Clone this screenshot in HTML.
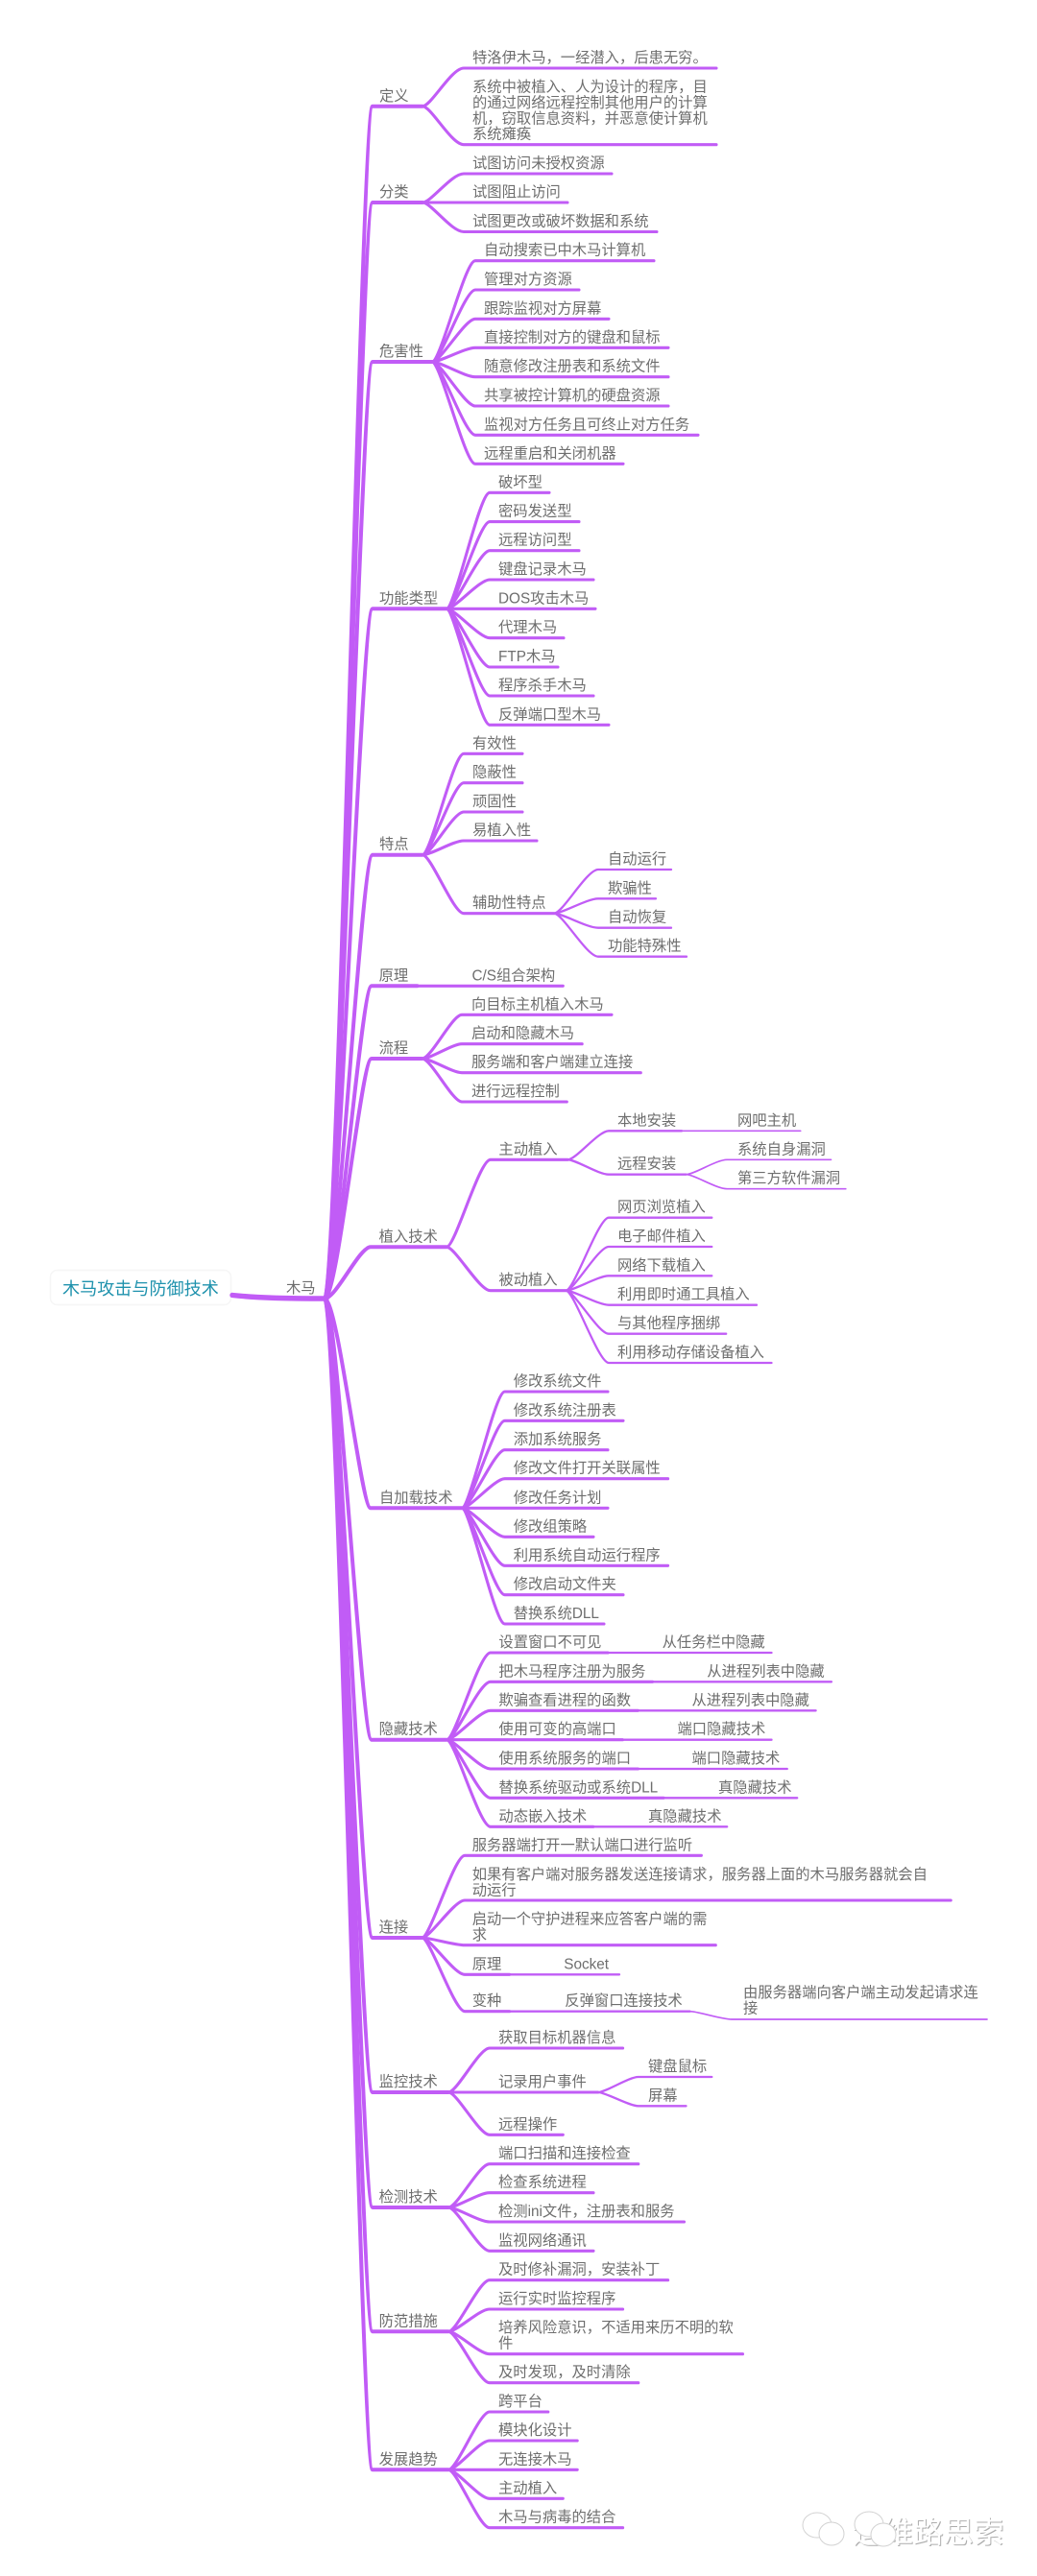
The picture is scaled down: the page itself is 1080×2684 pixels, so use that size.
<!DOCTYPE html>
<html lang="zh"><head><meta charset="utf-8"><title>木马攻击与防御技术</title>
<style>
html,body{margin:0;padding:0;background:#fff}
svg{display:block;filter:blur(.35px)}
text{font-family:"Liberation Sans","Noto Sans CJK SC",sans-serif;font-size:15.3px;fill:#6e6e6e}
.l{fill:none;stroke:#c15cf6;stroke-linecap:round;stroke-linejoin:round}
</style></head><body>
<svg width="1080" height="2684" viewBox="0 0 1080 2684" xmlns="http://www.w3.org/2000/svg">
<rect x="52.5" y="1323.5" width="188" height="36" rx="7" fill="#fff" stroke="#f6f6f6" stroke-width="1.5"/>
<g class="l">
<path stroke-width="5.4" d="M242 1349.5C270 1352.5 300 1353 340 1353"/>
<g stroke-width="4">
<path d="M338 1353C352 1353 376 110.7 388 110.7H440"/>
<path d="M338 1353C352 1353 376 211 388 211H440"/>
<path d="M338 1353C352 1353 376 377 388 377H450"/>
<path d="M338 1353C352 1353 376 634.3 388 634.3H465"/>
<path d="M338 1353C352 1353 376 890.7 388 890.7H440"/>
<path d="M338 1353C352 1353 376 1027.3 387 1027.3H434.5"/>
<path d="M338 1353C352 1353 376 1103 387 1103H439.5"/>
<path d="M338 1353C350 1353 374 1299.3 386 1299.3H465.2"/>
<path d="M338 1353C352 1353 376 1571.3 386 1571.3H481"/>
<path d="M338 1353C352 1353 376 1812.7 387 1812.7H465.2"/>
<path d="M338 1353C352 1353 376 2019 388 2019H439.5"/>
<path d="M338 1353C352 1353 376 2180 388 2180H467"/>
<path d="M338 1353C352 1353 376 2300 388 2300H467"/>
<path d="M338 1353C352 1353 376 2429.3 388 2429.3H467"/>
<path d="M338 1353C352 1353 376 2573.3 388 2573.3H467"/>
</g>
<g stroke-width="3.1">
<path d="M440 110.7C449 110.7 470 71 483 71H746"/>
<path d="M440 110.7C449 110.7 470 150.7 483 150.7H746"/>
<path d="M440 211C449 211 470 181 483 181H637"/>
<path d="M440 211H591"/>
<path d="M440 211C449 211 470 241.5 483 241.5H684"/>
<path d="M450 377C459 377 484 271.7 495 271.7H681"/>
<path d="M450 377C459 377 484 302 495 302H603"/>
<path d="M450 377C459 377 484 332.3 495 332.3H634"/>
<path d="M450 377C459 377 484 362.3 495 362.3H696"/>
<path d="M450 377C459 377 484 392.7 495 392.7H696"/>
<path d="M450 377C459 377 484 423 495 423H696"/>
<path d="M450 377C459 377 484 453.3 495 453.3H727"/>
<path d="M450 377C459 377 484 483.3 495 483.3H649"/>
<path d="M465 634.3C474 634.3 499 513.3 510 513.3H572"/>
<path d="M465 634.3C474 634.3 499 543.6 510 543.6H603"/>
<path d="M465 634.3C474 634.3 499 573.7 510 573.7H603"/>
<path d="M465 634.3C474 634.3 499 604 510 604H618"/>
<path d="M465 634.3H620"/>
<path d="M465 634.3C474 634.3 499 664.7 510 664.7H587"/>
<path d="M465 634.3C474 634.3 499 695 510 695H581"/>
<path d="M465 634.3C474 634.3 499 725 510 725H618"/>
<path d="M465 634.3C474 634.3 499 755.3 510 755.3H634"/>
<path d="M440 890.7C449 890.7 472 785.3 483 785.3H544"/>
<path d="M440 890.7C449 890.7 472 815.7 483 815.7H544"/>
<path d="M440 890.7C449 890.7 472 846 483 846H544"/>
<path d="M440 890.7C449 890.7 472 876 483 876H559"/>
<path d="M440 890.7C449 890.7 472 951.7 483 951.7H577"/>
<path d="M434.5 1027.3H586.3"/>
<path d="M439.5 1103C449 1103 471 1057.3 481 1057.3H637"/>
<path d="M439.5 1103C449 1103 471 1087.7 481 1087.7H606.2"/>
<path d="M439.5 1103C449 1103 471 1117.7 481 1117.7H667.3"/>
<path d="M439.5 1103C449 1103 471 1148 481 1148H590.3"/>
<path d="M465.2 1299.3C474 1299.3 499 1208.3 510.8 1208.3H591.3"/>
<path d="M465.2 1299.3C474 1299.3 499 1344.7 510.8 1344.7H589.3"/>
<path d="M481 1571.3C490 1571.3 515 1450 525.7 1450H633"/>
<path d="M481 1571.3C490 1571.3 515 1480.3 525.7 1480.3H649"/>
<path d="M481 1571.3C490 1571.3 515 1510.7 525.7 1510.7H633"/>
<path d="M481 1571.3C490 1571.3 515 1540.7 525.7 1540.7H695.6"/>
<path d="M481 1571.3H633"/>
<path d="M481 1571.3C490 1571.3 515 1601.3 525.7 1601.3H618"/>
<path d="M481 1571.3C490 1571.3 515 1631.3 525.7 1631.3H695.6"/>
<path d="M481 1571.3C490 1571.3 515 1661.7 525.7 1661.7H649"/>
<path d="M481 1571.3C490 1571.3 515 1692 525.7 1692H629"/>
<path d="M465.2 1812.7C474 1812.7 499 1722 510.8 1722H633"/>
<path d="M465.2 1812.7C474 1812.7 499 1752.3 510.8 1752.3H679.7"/>
<path d="M465.2 1812.7C474 1812.7 499 1782.3 510.8 1782.3H664.4"/>
<path d="M465.2 1812.7H648.4"/>
<path d="M465.2 1812.7C474 1812.7 499 1843 510.8 1843H664.4"/>
<path d="M465.2 1812.7C474 1812.7 499 1873.3 510.8 1873.3H691.2"/>
<path d="M465.2 1812.7C474 1812.7 499 1903.3 510.8 1903.3H618"/>
<path d="M439.5 2019C448 2019 473 1933.3 484 1933.3H730.4"/>
<path d="M439.5 2019C448 2019 473 1980 484 1980H990.2"/>
<path d="M439.5 2019C448 2019 473 2026.7 484 2026.7H745.3"/>
<path d="M439.5 2019C448 2019 473 2057.3 484 2057.3H530.7"/>
<path d="M439.5 2019C448 2019 473 2095.7 484 2095.7H530.7"/>
<path d="M467 2180C476 2180 499 2134 509.8 2134H648.6"/>
<path d="M467 2180H622.7"/>
<path d="M467 2180C476 2180 499 2224.3 509.8 2224.3H586.3"/>
<path d="M467 2300C476 2300 499 2254.7 509.8 2254.7H664.8"/>
<path d="M467 2300C476 2300 499 2284.7 509.8 2284.7H618"/>
<path d="M467 2300C476 2300 499 2315 509.8 2315H712.5"/>
<path d="M467 2300C476 2300 499 2345.3 509.8 2345.3H618"/>
<path d="M467 2429.3C476 2429.3 499 2375.7 509.8 2375.7H695.6"/>
<path d="M467 2429.3C476 2429.3 499 2406 509.8 2406H648.6"/>
<path d="M467 2429.3C476 2429.3 499 2452.7 509.8 2452.7H773.5"/>
<path d="M467 2429.3C476 2429.3 499 2482.7 509.8 2482.7H664.8"/>
<path d="M467 2573.3C476 2573.3 499 2513 509.8 2513H570.8"/>
<path d="M467 2573.3C476 2573.3 499 2543 509.8 2543H601.2"/>
<path d="M467 2573.3H601.2"/>
<path d="M467 2573.3C476 2573.3 499 2603.3 509.8 2603.3H586.3"/>
<path d="M467 2573.3C476 2573.3 499 2633.7 509.8 2633.7H648.6"/>
</g>
<g stroke-width="2.3">
<path d="M577 951.7C586 951.7 611 906 623 906H699"/>
<path d="M577 951.7C586 951.7 611 936.3 623 936.3H683"/>
<path d="M577 951.7C586 951.7 611 966.7 623 966.7H699"/>
<path d="M577 951.7C586 951.7 611 996.7 623 996.7H715"/>
<path d="M591.3 1208.3C600 1208.3 623 1178.3 634 1178.3H710"/>
<path d="M591.3 1208.3C600 1208.3 623 1223.7 634 1223.7H714.5"/>
<path d="M589.3 1344.7C598 1344.7 623 1268.7 634 1268.7H741.3"/>
<path d="M589.3 1344.7C598 1344.7 623 1299 634 1299H741.3"/>
<path d="M589.3 1344.7C598 1344.7 623 1329.3 634 1329.3H741.3"/>
<path d="M589.3 1344.7C598 1344.7 623 1359.7 634 1359.7H788"/>
<path d="M589.3 1344.7C598 1344.7 623 1389.7 634 1389.7H756.2"/>
<path d="M589.3 1344.7C598 1344.7 623 1420 634 1420H803.5"/>
<path d="M633 1722H803.5"/>
<path d="M679.7 1752.3H865.9"/>
<path d="M664.4 1782.3H849.6"/>
<path d="M648.4 1812.7H803.5"/>
<path d="M664.4 1843H819.8"/>
<path d="M691.2 1873.3H830.2"/>
<path d="M618 1903.3H757.2"/>
<path d="M530.7 2057.3H645"/>
<path d="M530.7 2095.7H718.5"/>
<path d="M622.7 2180C631 2180 655 2164 664.8 2164H741.3"/>
<path d="M622.7 2180C631 2180 655 2194.3 664.8 2194.3H714.5"/>
</g>
<g stroke-width="1.7">
<path d="M710 1178.3H833.7"/>
<path d="M714.5 1223.7C723 1223.7 746 1208.3 757.2 1208.3H865.5"/>
<path d="M714.5 1223.7C723 1223.7 746 1238.7 757.2 1238.7H880.8"/>
<path d="M718.5 2095.7C727 2095.7 751 2104 762 2104H1028"/>
</g>
</g>

<text x="65" y="1349" style="font-size:18.1px;fill:#1f92ad">木马攻击与防御技术</text>
<text x="298" y="1347">木马</text>

<text x="395" y="105">定义</text>
<text x="492" y="65">特洛伊木马，一经潜入，后患无穷。</text>
<text x="492" y="95.5">系统中被植入、人为设计的程序，目</text>
<text x="492" y="111.8">的通过网络远程控制其他用户的计算</text>
<text x="492" y="128.3">机，窃取信息资料，并恶意使计算机</text>
<text x="492" y="144.5">系统瘫痪</text>

<text x="395" y="205">分类</text>
<text x="492" y="175">试图访问未授权资源</text>
<text x="492" y="205">试图阻止访问</text>
<text x="492" y="235.5">试图更改或破坏数据和系统</text>

<text x="395" y="371">危害性</text>
<text x="504" y="265.7">自动搜索已中木马计算机</text>
<text x="504" y="296">管理对方资源</text>
<text x="504" y="326.3">跟踪监视对方屏幕</text>
<text x="504" y="356.3">直接控制对方的键盘和鼠标</text>
<text x="504" y="386.7">随意修改注册表和系统文件</text>
<text x="504" y="417">共享被控计算机的硬盘资源</text>
<text x="504" y="447.3">监视对方任务且可终止对方任务</text>
<text x="504" y="477.3">远程重启和关闭机器</text>

<text x="395" y="628.3">功能类型</text>
<text x="519" y="507.3">破坏型</text>
<text x="519" y="537.6">密码发送型</text>
<text x="519" y="567.7">远程访问型</text>
<text x="519" y="598">键盘记录木马</text>
<text x="519" y="628.3">DOS攻击木马</text>
<text x="519" y="658.7">代理木马</text>
<text x="519" y="689">FTP木马</text>
<text x="519" y="719">程序杀手木马</text>
<text x="519" y="749.3">反弹端口型木马</text>

<text x="395" y="884.7">特点</text>
<text x="492" y="779.3">有效性</text>
<text x="492" y="809.7">隐蔽性</text>
<text x="492" y="840">顽固性</text>
<text x="492" y="870">易植入性</text>
<text x="492" y="945.7">辅助性特点</text>
<text x="633" y="900">自动运行</text>
<text x="633" y="930.3">欺骗性</text>
<text x="633" y="960.7">自动恢复</text>
<text x="633" y="990.7">功能特殊性</text>

<text x="394.6" y="1021.3">原理</text>
<text x="491.5" y="1021.3">C/S组合架构</text>

<text x="394.6" y="1097">流程</text>
<text x="491" y="1051.3">向目标主机植入木马</text>
<text x="491" y="1081.7">启动和隐藏木马</text>
<text x="491" y="1111.7">服务端和客户端建立连接</text>
<text x="491" y="1142">进行远程控制</text>

<text x="394.6" y="1293.3">植入技术</text>
<text x="519.4" y="1202.3">主动植入</text>
<text x="643" y="1172.3">本地安装</text>
<text x="768" y="1172.3">网吧主机</text>
<text x="643" y="1217.7">远程安装</text>
<text x="768" y="1202.3">系统自身漏洞</text>
<text x="768" y="1232.7">第三方软件漏洞</text>
<text x="519.4" y="1338.7">被动植入</text>
<text x="643" y="1262.7">网页浏览植入</text>
<text x="643" y="1293">电子邮件植入</text>
<text x="643" y="1323.3">网络下载植入</text>
<text x="643" y="1353.7">利用即时通工具植入</text>
<text x="643" y="1383.7">与其他程序捆绑</text>
<text x="643" y="1414">利用移动存储设备植入</text>

<text x="395" y="1565.3">自加载技术</text>
<text x="534.7" y="1444">修改系统文件</text>
<text x="534.7" y="1474.3">修改系统注册表</text>
<text x="534.7" y="1504.7">添加系统服务</text>
<text x="534.7" y="1534.7">修改文件打开关联属性</text>
<text x="534.7" y="1565.3">修改任务计划</text>
<text x="534.7" y="1595.3">修改组策略</text>
<text x="534.7" y="1625.3">利用系统自动运行程序</text>
<text x="534.7" y="1655.7">修改启动文件夹</text>
<text x="534.7" y="1686">替换系统DLL</text>

<text x="394.6" y="1806.7">隐藏技术</text>
<text x="519.4" y="1716">设置窗口不可见</text>
<text x="689.6" y="1716">从任务栏中隐藏</text>
<text x="519.4" y="1746.3">把木马程序注册为服务</text>
<text x="736.3" y="1746.3">从进程列表中隐藏</text>
<text x="519.4" y="1776.3">欺骗查看进程的函数</text>
<text x="720.5" y="1776.3">从进程列表中隐藏</text>
<text x="519.4" y="1806.7">使用可变的高端口</text>
<text x="705.5" y="1806.7">端口隐藏技术</text>
<text x="519.4" y="1837">使用系统服务的端口</text>
<text x="720.5" y="1837">端口隐藏技术</text>
<text x="519.4" y="1867.3">替换系统驱动或系统DLL</text>
<text x="748" y="1867.3">真隐藏技术</text>
<text x="519.4" y="1897.3">动态嵌入技术</text>
<text x="675" y="1897.3">真隐藏技术</text>

<text x="394.6" y="2013">连接</text>
<text x="491.7" y="1927.3">服务器端打开一默认端口进行监听</text>
<text x="491.7" y="1957.8">如果有客户端对服务器发送连接请求，服务器上面的木马服务器就会自</text>
<text x="491.7" y="1974.5">动运行</text>
<text x="491.7" y="2004.5">启动一个守护进程来应答客户端的需</text>
<text x="491.7" y="2021">求</text>
<text x="491.7" y="2051.3">原理</text>
<text x="587.3" y="2051.3">Socket</text>
<text x="491.7" y="2089.7">变种</text>
<text x="588.3" y="2089.7">反弹窗口连接技术</text>
<text x="774" y="2081">由服务器端向客户端主动发起请求连</text>
<text x="774" y="2097.7">接</text>

<text x="394.6" y="2174">监控技术</text>
<text x="519" y="2128">获取目标机器信息</text>
<text x="519" y="2174">记录用户事件</text>
<text x="675" y="2158">键盘鼠标</text>
<text x="675" y="2188.3">屏幕</text>
<text x="519" y="2218.3">远程操作</text>

<text x="394.6" y="2294">检测技术</text>
<text x="519" y="2248.7">端口扫描和连接检查</text>
<text x="519" y="2278.7">检查系统进程</text>
<text x="519" y="2309">检测ini文件，注册表和服务</text>
<text x="519" y="2339.3">监视网络通讯</text>

<text x="394.6" y="2423.3">防范措施</text>
<text x="519" y="2369.7">及时修补漏洞，安装补丁</text>
<text x="519" y="2400">运行实时监控程序</text>
<text x="519" y="2429.8">培养风险意识，不适用来历不明的软</text>
<text x="519" y="2446.5">件</text>
<text x="519" y="2476.7">及时发现，及时清除</text>

<text x="394.6" y="2567.3">发展趋势</text>
<text x="519" y="2507">跨平台</text>
<text x="519" y="2537">模块化设计</text>
<text x="519" y="2567.3">无连接木马</text>
<text x="519" y="2597.3">主动植入</text>
<text x="519" y="2627.7">木马与病毒的结合</text>

<g fill="#fff" stroke="#d2d2d2" stroke-width="1">
<ellipse cx="851" cy="2631" rx="15" ry="13"/>
<ellipse cx="866" cy="2640" rx="13" ry="12"/>
</g>
<text x="889" y="2650" style="font-size:31.5px;fill:#adadad">运维路思索</text>
<text x="888" y="2649" style="font-size:31.5px;fill:#fff">运维路思索</text>
<g fill="#fff" stroke="#d2d2d2" stroke-width="1">
<ellipse cx="905" cy="2630" rx="15" ry="13"/>
<ellipse cx="920" cy="2641" rx="13" ry="12"/>
</g>
</svg>
</body></html>
